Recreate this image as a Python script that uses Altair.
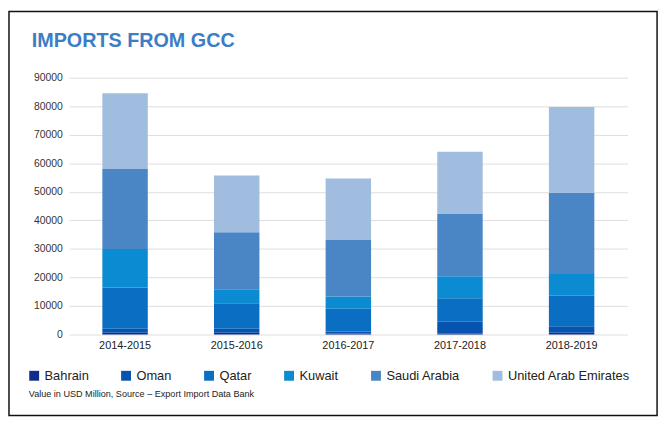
import altair as alt
import pandas as pd

years = ["2014-2015", "2015-2016", "2016-2017", "2017-2018", "2018-2019"]
countries = ["Bahrain", "Oman", "Qatar", "Kuwait", "Saudi Arabia", "United Arab Emirates"]
bahrain = [600, 600, 400, 300, 600]
oman = [1400, 1400, 700, 4200, 2300]
qatar = [14500, 9000, 7900, 8200, 10700]
kuwait = [13500, 4900, 4300, 7700, 7600]
saudi = [28000, 19900, 19800, 22000, 28500]
uae = [26500, 19900, 21600, 21600, 30000]
colors = ["#112c8a", "#0754b0", "#0a6fc2", "#0a8bd2", "#4a86c6", "#a0bde0"]
y_ticks = [0, 10000, 20000, 30000, 40000, 50000, 60000, 70000, 80000, 90000]
title_text = "IMPORTS FROM GCC"
note_text = "Value in USD Million, Source \u2013 Export Import Data Bank"

series = [bahrain, oman, qatar, kuwait, saudi, uae]
rows = []
for ci, (c, vals) in enumerate(zip(countries, series)):
    for y, v in zip(years, vals):
        rows.append({"Year": y, "Country": c, "Value": v, "ord": ci})
df = pd.DataFrame(rows)

FONT = "Liberation Sans"

bars = alt.Chart(df).mark_bar(size=46).encode(
    x=alt.X("Year:N", sort=years, title=None,
            scale=alt.Scale(paddingInner=0.593, paddingOuter=0.2965),
            axis=alt.Axis(labelAngle=0, ticks=False, domain=False, labelFontSize=11,
                          labelColor="#222222", labelPadding=5, labelFont=FONT)),
    y=alt.Y("Value:Q", stack="zero", title=None,
            scale=alt.Scale(domain=[0, 90000], nice=False),
            axis=alt.Axis(values=y_ticks, format="d", ticks=False, domain=False,
                          labelFontSize=10.5, labelColor="#333333", labelPadding=7,
                          gridColor="#dddddd", gridWidth=1, labelFont=FONT)),
    color=alt.Color("Country:N", sort=countries,
                    scale=alt.Scale(domain=countries, range=colors),
                    legend=alt.Legend(title=None, orient="none", direction="horizontal",
                                      legendX=-42, legendY=295, symbolType="square",
                                      symbolSize=100, symbolStrokeWidth=0,
                                      labelFontSize=13, labelFont=FONT, labelColor="#222222",
                                      columnPadding=31, labelOffset=4, columns=6)),
    order=alt.Order("ord:Q", sort="ascending"),
)

title = alt.Chart(pd.DataFrame({"t": [title_text]})).mark_text(
    align="left", baseline="alphabetic", font=FONT, fontSize=20, fontWeight="bold",
    color="#3c7dc6"
).encode(x=alt.value(-38), y=alt.value(-31), text="t:N")

note = alt.Chart(pd.DataFrame({"t": [note_text]})).mark_text(
    align="left", baseline="alphabetic", font=FONT, fontSize=9.2, color="#222222"
).encode(x=alt.value(-41), y=alt.value(323), text="t:N")

border = alt.Chart(pd.DataFrame({"a": [0]})).mark_rect(
    fillOpacity=0, stroke="#111111", strokeWidth=1.5
).encode(x=alt.value(-61), x2=alt.value(595), y=alt.value(-67), y2=alt.value(342))

chart = alt.layer(bars, title, note, border).properties(
    width=565, height=260,
    autosize=alt.AutoSizeParams(type="none"),
    padding={"left": 62, "top": 68, "right": 36, "bottom": 84},
    background="white",
).configure_view(stroke=None)

chart.save("out.html", embed_options={"renderer": "svg", "actions": False})
